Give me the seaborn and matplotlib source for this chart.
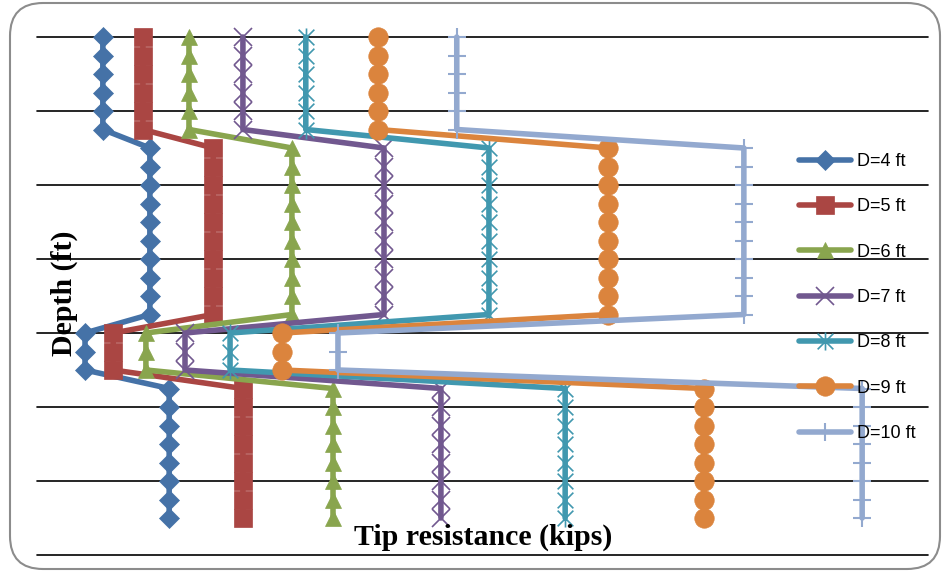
import numpy as np
import pandas as pd
import matplotlib
matplotlib.use("Agg")
import matplotlib.pyplot as plt
from matplotlib.path import Path
from matplotlib.patches import FancyBboxPatch
import seaborn as sns

# Depth of each reading (ft)
depth = [0.0, 0.5, 1.0, 1.5, 2.0, 2.5, 3.0, 3.5, 4.0, 4.5, 5.0, 5.5, 6.0, 6.5,
         7.0, 7.5, 8.0, 8.5, 9.0, 9.5, 10.0, 10.5, 11.0, 11.5, 12.0, 12.5, 13.0]

# Tip resistance (kips) for each pile diameter, one value per depth
tip_d4 = [133, 133, 133, 133, 133, 133,
          228, 228, 228, 228, 228, 228, 228, 228, 228, 228,
          97, 97, 97,
          267, 267, 267, 267, 267, 267, 267, 267]
tip_d5 = [214, 214, 214, 214, 214, 214,
          356, 356, 356, 356, 356, 356, 356, 356, 356, 356,
          154, 154, 154,
          416, 416, 416, 416, 416, 416, 416, 416]
tip_d6 = [307, 307, 307, 307, 307, 307,
          515, 515, 515, 515, 515, 515, 515, 515, 515, 515,
          220, 220, 220,
          598, 598, 598, 598, 598, 598, 598, 598]
tip_d7 = [416, 416, 416, 416, 416, 416,
          701, 701, 701, 701, 701, 701, 701, 701, 701, 701,
          299, 299, 299,
          816, 816, 816, 816, 816, 816, 816, 816]
tip_d8 = [543, 543, 543, 543, 543, 543,
          913, 913, 913, 913, 913, 913, 913, 913, 913, 913,
          390, 390, 390,
          1067, 1067, 1067, 1067, 1067, 1067, 1067, 1067]
tip_d9 = [689, 689, 689, 689, 689, 689,
          1154, 1154, 1154, 1154, 1154, 1154, 1154, 1154, 1154, 1154,
          495, 495, 495,
          1347, 1347, 1347, 1347, 1347, 1347, 1347, 1347]
tip_d10 = [848, 848, 848, 848, 848, 848,
           1428, 1428, 1428, 1428, 1428, 1428, 1428, 1428, 1428, 1428,
           608, 608, 608,
           1667, 1667, 1667, 1667, 1667, 1667, 1667, 1667]

series_labels = ["D=4 ft", "D=5 ft", "D=6 ft", "D=7 ft", "D=8 ft", "D=9 ft", "D=10 ft"]
series_values = [tip_d4, tip_d5, tip_d6, tip_d7, tip_d8, tip_d9, tip_d10]

colors = ["#4572A7", "#AA4643", "#89A54E", "#71588F", "#4198AF", "#DB843D", "#93A9CF"]

# asterisk marker: an "x" crossed with a vertical stroke
star_path = Path(
    [(-1, -1), (1, 1), (-1, 1), (1, -1), (0, -1.15), (0, 1.15)],
    [Path.MOVETO, Path.LINETO, Path.MOVETO, Path.LINETO, Path.MOVETO, Path.LINETO],
)

marker_styles = [
    dict(marker="D", markersize=10, markerfacecolor=colors[0], markeredgecolor=colors[0], markeredgewidth=0.5),
    dict(marker="s", markersize=13, markerfacecolor=colors[1], markeredgecolor=colors[1], markeredgewidth=0.5),
    dict(marker="^", markersize=12, markerfacecolor=colors[2], markeredgecolor=colors[2], markeredgewidth=0.5),
    dict(marker="x", markersize=13, markerfacecolor="none", markeredgecolor=colors[3], markeredgewidth=1.2),
    dict(marker=star_path, markersize=13, markerfacecolor="none", markeredgecolor=colors[4], markeredgewidth=1.2),
    dict(marker="o", markersize=14, markerfacecolor=colors[5], markeredgecolor=colors[5], markeredgewidth=0.5),
    dict(marker="+", markersize=13, markerfacecolor="none", markeredgecolor=colors[6], markeredgewidth=1.5),
]

sns.set_style("white")

W, H = 943, 577
fig = plt.figure(figsize=(W / 100, H / 100), dpi=100)
ax = fig.add_axes([37 / W, 1 - 555 / H, 891 / W, 518 / H])

for label, values, color, mstyle in zip(series_labels, series_values, colors, marker_styles):
    df = pd.DataFrame({"depth": depth, "tip": values})
    sns.lineplot(data=df, x="tip", y="depth", sort=False, estimator=None,
                 orient="y", color=color, linewidth=4.0, label=label,
                 clip_on=False, ax=ax, **mstyle)

ax.set_xlim(0, 1800)
ax.set_ylim(14, 0)
ax.set_yticks(np.arange(0, 15, 2))
ax.set_xticks([])
ax.grid(axis="y", color="black", linewidth=1.2)
for gl in ax.get_ygridlines():
    gl.set_clip_on(False)
ax.set_axisbelow(True)
ax.tick_params(left=False, bottom=False, labelleft=False, labelbottom=False)
for s in ax.spines.values():
    s.set_visible(False)
ax.set_xlabel("")
ax.set_ylabel("")
ax.patch.set_alpha(0)

handles, labels = ax.get_legend_handles_labels()
leg = ax.legend(handles, labels, loc="upper left",
                bbox_to_anchor=(799 / W, 1 - 153 / H), bbox_transform=fig.transFigure,
                frameon=False, borderpad=0, borderaxespad=0,
                handlelength=2.9, handletextpad=0.3, labelspacing=1.57,
                labelcolor="black",
                prop={"family": "Liberation Sans", "size": 13})

fig.text(64 / W, 1 - 293 / H, "Depth (ft)", rotation=90, ha="center", va="center",
         family="Liberation Serif", weight="bold", fontsize=21.5, color="black")
fig.text(483 / W, 1 - 537 / H, "Tip resistance (kips)", ha="center", va="center",
         family="Liberation Serif", weight="bold", fontsize=21.5, color="black")

# rounded chart-area border
border = FancyBboxPatch((10 / W, 8 / H), 930 / W, 566 / H,
                        boxstyle="round,pad=0,rounding_size=0.035",
                        transform=fig.transFigure, facecolor="none",
                        edgecolor="#8c8c8c", linewidth=1.5, mutation_aspect=W / H)
fig.patches.append(border)

fig.savefig("out.png", dpi=100)
